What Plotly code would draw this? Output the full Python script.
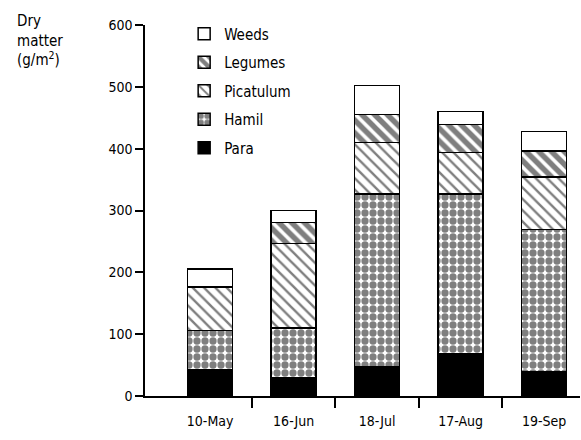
import plotly.graph_objects as go

dates = ["10-May", "16-Jun", "18-Jul", "17-Aug", "19-Sep"]
para = [43, 29, 47, 68, 40]
hamil = [63, 81, 280, 259, 229]
picatulum = [70, 137, 83, 67, 85]
legumes = [0, 34, 45, 45, 42]
weeds = [29, 19, 47, 21, 32]
y_ticks = [0, 100, 200, 300, 400, 500, 600]

FONT = "DejaVu Sans Condensed, Liberation Sans Narrow, Liberation Sans"
xs = list(range(len(dates)))

series = [
    ("Para", para, dict(color="black", pattern=dict(shape=""))),
    ("Hamil", hamil, dict(color="white", pattern=dict(shape=".", fgcolor="black", bgcolor="white", size=8, solidity=0.65, fillmode="overlay"))),
    ("Picatulum", picatulum, dict(color="white", pattern=dict(shape="\\", fgcolor="black", bgcolor="white", size=8, solidity=0.3, fillmode="overlay"))),
    ("Legumes", legumes, dict(color="white", pattern=dict(shape="\\", fgcolor="black", bgcolor="white", size=9, solidity=0.6, fillmode="overlay"))),
    ("Weeds", weeds, dict(color="white", pattern=dict(shape=""))),
]

fig = go.Figure()
n = len(series)
for i, (name, vals, mk) in enumerate(series):
    mk = dict(mk)
    mk["line"] = dict(color="black", width=1.5)
    fig.add_trace(go.Bar(x=xs, y=vals, name=name, marker=mk, width=0.54,
                         legendgroup=name, legendrank=n - i))

fig.update_layout(
    barmode="stack",
    width=581, height=440,
    margin=dict(l=145, r=1, t=25, b=44),
    paper_bgcolor="white", plot_bgcolor="white",
    font=dict(family=FONT, size=14, color="black"),
    showlegend=True,
    legend=dict(x=0.09, y=1.02, xanchor="left", yanchor="top",
                traceorder="grouped", tracegroupgap=6,
                bgcolor="rgba(0,0,0,0)", font=dict(family=FONT, size=15)),
    xaxis=dict(range=[-0.78, 4.43], tickvals=xs, ticktext=dates,
               showline=True, linecolor="black", linewidth=1.5,
               ticks="", showgrid=False, zeroline=False,
               ticklabelstandoff=11,
               minor=dict(tickvals=[0.5, 1.5, 2.5, 3.5], ticks="outside",
                          ticklen=10, tickwidth=1.5, tickcolor="black", showgrid=False)),
    yaxis=dict(range=[0, 600], tickvals=y_ticks,
               showline=True, linecolor="black", linewidth=1.5,
               ticks="outside", ticklen=8, tickwidth=1.5, tickcolor="black",
               showgrid=False, zeroline=False),
    annotations=[dict(text="Dry<br>matter<br>(g/m<sup>2</sup>)", xref="paper", yref="paper",
                      x=-0.30, y=1.04, xanchor="left", yanchor="top", align="left",
                      showarrow=False, font=dict(family=FONT, size=15))],
)

fig.write_html("out.html", config={"displayModeBar": False},
               post_script="document.body.style.margin='0';")
